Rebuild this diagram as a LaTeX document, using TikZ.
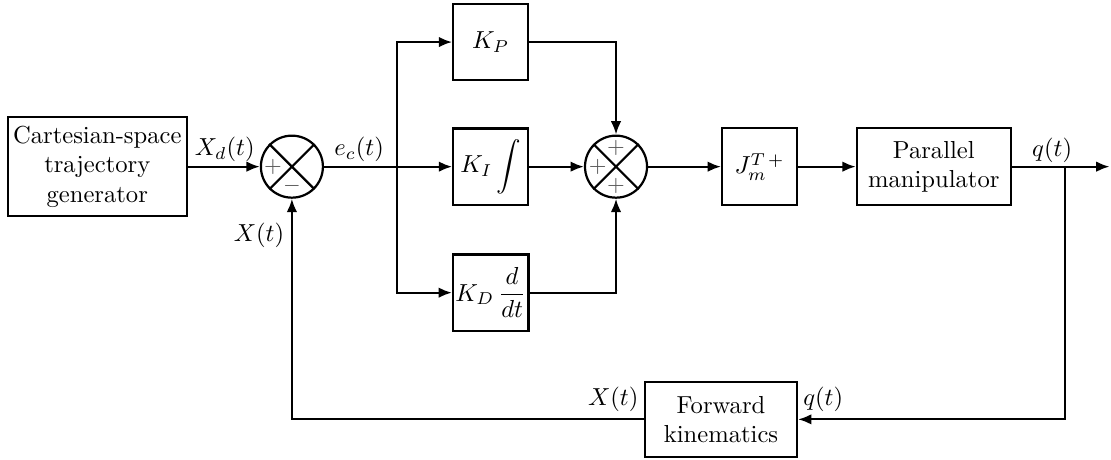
\documentclass[tikz,border=0pt]{standalone}
\usepackage{amsmath}
\usepackage{amssymb}
\usepackage{tikz}
\usetikzlibrary{arrows.meta,positioning,calc}

\begin{document}
\begin{tikzpicture}[scale=1.0,>={Latex[length=1.9mm,width=1.5mm]},line width=0.9pt,
  blocco/.style={draw,minimum width=1.07cm,minimum height=1.09cm,align=center,inner sep=1pt},
  somma/.style={draw,circle,minimum size=0.886cm,inner sep=0pt},
  segno/.style={font=\small,gray!70!black}]
  \useasboundingbox (0,0) rectangle (15.871,6.571);
  % blocchi
  \node[blocco,minimum width=2.56cm,minimum height=1.41cm] (gen) at (1.39,4.19) {Cartesian-space\\trajectory\\generator};
  \node[somma] (s1) at (4.17,4.19) {};
  \node[blocco] (kp) at (7.01,5.97) {$K_P$};
  \node[blocco] (ki) at (7.01,4.19) {$K_I\displaystyle\int$};
  \node[blocco] (kd) at (7.01,2.39) {$K_D\,\dfrac{d}{dt}$};
  \node[somma] (s2) at (8.80,4.19) {};
  \node[blocco,minimum height=1.1cm] (jm) at (10.85,4.19) {$J^{T\,+}_m$};
  \node[blocco,minimum width=2.2cm,minimum height=1.1cm] (pm) at (13.34,4.19) {Parallel\\manipulator};
  \node[blocco,minimum width=2.17cm,minimum height=1.07cm] (fk) at (10.30,0.58) {Forward\\kinematics};
  \foreach \s in {s1,s2} \draw (\s.north east)--(\s.south west) (\s.north west)--(\s.south east);
  % segni
  \node[segno] (p1) at ($(s1)+(-0.27,0)$) {$+$};
  \node[segno] (m1) at ($(s1)+(0,-0.27)$) {$-$};
  \node[segno] (p2) at ($(s2)+(-0.26,0)$) {$+$};
  \node[segno] (p3) at ($(s2)+(0,0.26)$) {$+$};
  \node[segno] (p4) at ($(s2)+(0,-0.27)$) {$+$};
  % collegamenti
  \coordinate (br) at (5.67,4.19);
  \coordinate (bq) at (15.21,4.19);
  \coordinate (out) at (15.85,4.19);
  \draw[->] (gen.east) -- (s1.west);
  \draw (s1.east) -- (br);
  \draw[->] (br) -- (ki.west);
  \draw[->] (br) |- (kp.west);
  \draw[->] (br) |- (kd.west);
  \draw[->] (kp.east) -| (s2.north);
  \draw[->] (ki.east) -- (s2.west);
  \draw[->] (kd.east) -| (s2.south);
  \draw[->] (s2.east) -- (jm.west);
  \draw[->] (jm.east) -- (pm.west);
  \draw[->] (pm.east) -- (out);
  \draw[->] (bq) |- (fk.east);
  \draw[->] (fk.west) -| (s1.south);
  % etichette
  \node (lxd) at (3.21,4.44) {$X_d(t)$};
  \node (lec) at (5.13,4.44) {$e_c(t)$};
  \node (lx1) at (3.70,3.21) {$X(t)$};
  \node (lq1) at (15.03,4.42) {$q(t)$};
  \node (lx2) at (8.76,0.86) {$X(t)$};
  \node (lq2) at (11.76,0.86) {$q(t)$};
\end{tikzpicture}
\end{document}
